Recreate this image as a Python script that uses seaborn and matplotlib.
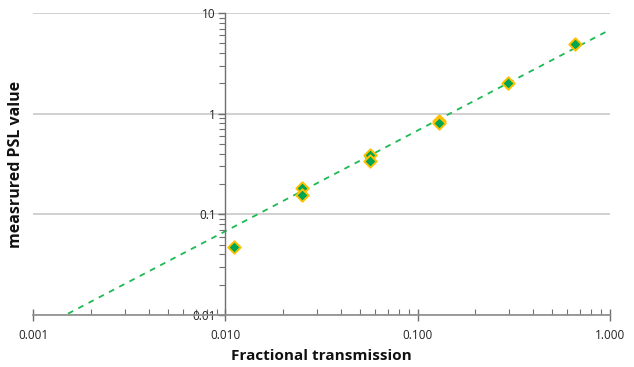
import numpy as np
import pandas as pd
import matplotlib
matplotlib.use("Agg")
import matplotlib.pyplot as plt
import matplotlib.ticker as mticker
import seaborn as sns

# Measured points: fractional transmission vs. PSL value
transmission = [0.0111, 0.0251, 0.0251, 0.0566, 0.0566, 0.130, 0.130, 0.294, 0.661]
psl_value = [0.047, 0.181, 0.156, 0.388, 0.340, 0.850, 0.800, 2.00, 4.88]

# Power-law trend: PSL = coef * T ** exponent
trend_coef = 6.8
trend_exp = 1.0

x_ticks = [0.001, 0.01, 0.1, 1.0]
x_tick_labels = ["0.001", "0.010", "0.100", "1.000"]
y_ticks = [0.01, 0.1, 1, 10]
y_tick_labels = ["0.01", "0.1", "1", "10"]

sns.set_style("white")
plt.rcParams["font.family"] = ["Open Sans", "DejaVu Sans"]

fig = plt.figure(figsize=(6.34, 3.67), dpi=100)
ax = fig.add_axes([0.0525, 0.1417, 0.9092, 0.8229])

df = pd.DataFrame({"T": transmission, "PSL": psl_value})

# Trend line over the plotted range, clipped to the y-limits
tx = np.logspace(-3, 0, 200)
ty = trend_coef * tx ** trend_exp
keep = ty >= 0.01
trend = pd.DataFrame({"T": tx[keep], "PSL": ty[keep]})
sns.lineplot(data=trend, x="T", y="PSL", ax=ax, color="#1db954",
             linewidth=1.3, linestyle=(0, (3.2, 3.2)), zorder=2)

sns.scatterplot(data=df, x="T", y="PSL", ax=ax, marker="D", s=40,
                color="#00a651", edgecolor="#ffc000", linewidth=1.4, zorder=3)

ax.set_xscale("log")
ax.set_yscale("log")
ax.set_xlim(0.001, 1.0)
ax.set_ylim(0.01, 10)

ax.set_xticks(x_ticks)
ax.set_xticklabels(x_tick_labels)
ax.set_yticks(y_ticks)
ax.set_yticklabels(y_tick_labels)
ax.xaxis.set_minor_locator(mticker.LogLocator(base=10, subs=np.arange(2, 10)))
ax.yaxis.set_minor_locator(mticker.LogLocator(base=10, subs=np.arange(2, 10)))
ax.xaxis.set_minor_formatter(mticker.NullFormatter())
ax.yaxis.set_minor_formatter(mticker.NullFormatter())

# Horizontal gridlines only
ax.yaxis.grid(True, which="major", color="#c8c8c8", linewidth=1.2)
ax.xaxis.grid(False)
ax.set_axisbelow(True)

for side in ("top", "right"):
    ax.spines[side].set_visible(False)
ax.spines["left"].set_position(("data", 0.01))
ax.spines["left"].set_color("#707070")
ax.spines["bottom"].set_color("#8c8c8c")
ax.spines["left"].set_linewidth(1.0)
ax.spines["bottom"].set_linewidth(1.2)

ax.tick_params(axis="x", which="both", bottom=True)
ax.tick_params(axis="y", which="both", left=True)
ax.tick_params(axis="x", which="major", direction="inout", length=8, width=1,
               color="#707070", labelsize=8.5, pad=6, labelcolor="#222222")
ax.tick_params(axis="x", which="minor", direction="in", length=4, width=0.8,
               color="#707070")
ax.tick_params(axis="y", which="major", direction="out", length=5, width=1,
               color="#707070", labelsize=8.5, pad=2, labelcolor="#222222")
ax.tick_params(axis="y", which="minor", direction="out", length=4, width=0.8,
               color="#707070")

ax.set_xlabel("Fractional transmission", fontsize=11, fontweight="bold",
              labelpad=5, color="#111111")
ax.set_ylabel("measrured PSL value", fontsize=11.5, fontweight="bold",
              color="#111111")
ax.yaxis.set_label_coords(-0.016, 0.5)

fig.savefig("out.png", dpi=100)
